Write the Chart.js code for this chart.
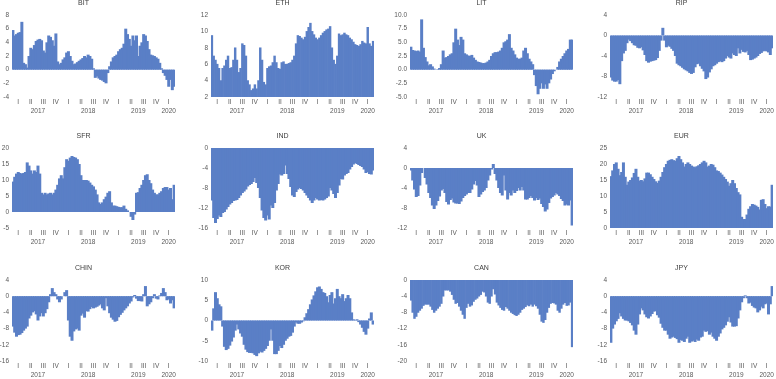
<!DOCTYPE html>
<html>
<head>
<meta charset="utf-8">
<script src="https://cdn.jsdelivr.net/npm/chart.js@4.4.1/dist/chart.umd.min.js"></script>
<style>
  html, body { margin: 0; padding: 0; background: #fff; overflow: hidden; }
  body { width: 776px; height: 379px; position: relative; }
  .panel { position: absolute; }
</style>
</head>
<body>
<script>
// axis labels
const quarterLabels = ['I', 'II', 'III', 'IV', 'I', 'II', 'III', 'IV', 'I', 'II', 'III', 'IV', 'I']
const yearLabels = ['2017', '2018', '2019', '2020']
const yearQuarters = [4, 4, 4, 1]
const pointsPerQuarter = 7

// series, 7 readings per quarter, Q1 2017 .. Q1 2020
const bit = [
  5.8, 5.0, 5.2, 5.4, 5.5, 7.0, 1.0,
  0.8, 0.3, 2.0, 3.2, 3.0, 3.6, 4.2,
  4.4, 4.5, 4.3, 2.8, 2.5, 4.0, 5.0,
  4.8, 4.3, 3.5, 5.3, 1.2, 0.8, 1.0,
  1.5, 1.8, 2.5, 2.7, 2.0, 1.3, 0.8,
  0.9, 1.1, 1.3, 1.5, 1.7, 2.0, 1.8,
  2.2, 2.0, 1.6, 0.2, -1.2, -1.0, -1.3,
  -1.5, -1.6, -1.8, -2.0, -0.5, 0.5, 1.2,
  1.8, 2.0, 2.2, 2.7, 3.0, 3.2, 3.8,
  6.0, 5.2, 4.5, 3.5, 5.0, 4.3, 5.0,
  2.0, 3.5, 4.0, 5.2, 5.0, 4.2, 3.0,
  2.2, 2.1, 2.0, 1.8, 1.6, 1.0, 0.2,
  -0.5, -0.9, -1.5, -2.5, -1.5, -3.0, -2.5
]
const eth = [
  9.5, 7.0, 6.5, 6.0, 5.5, 4.0, 5.5,
  5.8, 6.5, 7.0, 5.5, 5.6, 6.5, 8.0,
  6.5, 5.0, 5.5, 8.5, 8.3, 7.0, 4.0,
  3.5, 2.8, 3.0, 3.5, 3.0, 4.0, 8.0,
  6.5, 3.8, 3.5, 5.5, 5.7, 5.8, 6.2,
  7.0, 6.2, 5.5, 5.4, 6.2, 6.3, 6.0,
  6.0, 6.1, 6.2, 6.5, 7.0, 8.5, 9.5,
  9.4, 9.2, 9.0, 9.3, 10.0, 10.5, 11.0,
  10.0, 9.6, 9.2, 9.0, 9.2, 9.5, 9.8,
  10.0, 10.2, 10.3, 10.6, 8.0, 6.5, 6.0,
  7.0, 9.7, 9.5, 9.6, 9.8, 9.6, 9.5,
  9.2, 9.0, 8.7, 8.4, 8.3, 8.2, 8.4,
  8.8, 8.6, 8.5, 10.5, 8.5, 8.2, 8.8
]
const lit = [
  4.2, 3.6, 3.5, 3.4, 3.5, 3.3, 9.2,
  4.0, 2.3, 1.5, 0.8, 1.0, 0.6, 0.2,
  0.0, 0.1, 0.3, 1.0, 3.5, 2.2, 2.3,
  2.5, 2.8, 3.0, 5.0, 7.5, 5.5, 4.5,
  6.0, 5.5, 3.0, 2.8, 2.6, 2.5, 2.7,
  2.2, 1.8, 1.5, 1.4, 1.3, 1.2, 1.2,
  1.3, 1.5, 1.8, 2.5, 3.0, 3.2, 3.2,
  3.3, 3.5, 4.0, 5.0, 5.2, 5.5, 6.5,
  4.0, 3.5, 2.8, 2.2, 2.0, 2.0, 2.2,
  3.5, 4.0, 3.0, 2.0, 1.5, 1.0, -1.0,
  -3.0, -4.5, -3.5, -2.5, -3.5, -2.7, -3.5,
  -2.5, -1.8, -0.8, -0.3, 0.0, 0.5, 1.5,
  2.0, 2.5, 3.0, 3.5, 3.8, 5.5, 5.5
]
const rip = [
  -8.2, -8.8, -9.0, -9.0, -8.7, -9.5, -5.0,
  -3.5, -3.0, -1.5, -0.8, -1.1, -1.5, -1.9,
  -2.0, -2.4, -2.5, -2.3, -2.9, -3.8, -5.0,
  -5.3, -5.1, -5.0, -4.9, -4.8, -4.4, -3.0,
  -1.0, 1.5, -1.0, -2.3, -2.0, -2.2, -2.6,
  -3.0, -4.0, -5.5, -5.8, -6.0, -6.3, -6.6,
  -6.8, -7.0, -7.3, -7.5, -7.3, -6.2, -5.6,
  -5.5, -6.0, -6.5, -7.0, -8.5, -8.2, -7.2,
  -6.6, -6.0, -5.8, -5.5, -5.2, -5.0, -5.2,
  -5.0, -4.5, -4.0, -4.3, -4.5, -3.5, -3.8,
  -4.0, -2.5, -3.5, -2.8, -3.2, -3.3, -3.0,
  -3.8, -4.8, -4.7, -4.5, -4.3, -4.0, -3.6,
  -3.4, -3.1, -3.0, -3.1, -3.3, -3.8, -2.5
]
const sfr = [
  9.5, 11.0, 12.0, 12.5, 12.2, 12.0, 12.2,
  12.5, 15.5, 14.5, 13.0, 12.0, 13.0, 12.5,
  14.5, 12.0, 6.0, 5.5, 6.0, 5.5, 5.8,
  6.0, 5.5, 6.0, 7.0, 8.5, 10.5, 11.5,
  10.5, 14.0, 16.5, 16.0, 17.0, 17.5, 17.2,
  17.0, 16.5, 15.0, 11.5, 10.0, 10.0, 10.0,
  9.8, 9.2, 8.5, 8.0, 7.0, 5.5, 3.0,
  2.5, 3.0, 4.0, 4.8, 6.0, 6.5, 3.0,
  2.0, 2.0, 1.8, 1.6, 1.5, 1.5, 2.0,
  1.0, 0.5, 0.0, -1.5, -2.5, -0.8, 6.0,
  6.2, 7.5, 8.5, 10.0, 11.5, 11.8, 10.0,
  9.0, 7.0, 6.0, 5.5, 5.5, 6.0, 6.5,
  7.5, 7.8, 7.8, 7.0, 7.5, 4.0, 8.5
]
const ind = [
  -10.5, -14.0, -15.0, -14.2, -13.5, -13.8, -13.0,
  -12.8, -12.3, -11.8, -11.3, -11.0, -10.6, -10.5,
  -10.4, -10.0, -9.5, -9.0, -8.7, -8.3, -7.7,
  -7.4, -7.2, -6.8, -6.0, -7.0, -8.0, -10.0,
  -12.5, -14.0, -14.5, -13.5, -14.3, -11.5, -12.0,
  -11.0, -8.5, -7.2, -5.3, -5.5, -5.2, -3.5,
  -5.2, -6.2, -7.8, -9.5, -9.8, -8.8, -8.3,
  -8.0, -8.2, -8.5, -9.0, -9.5, -10.0, -10.5,
  -11.0, -10.5, -10.0, -10.3, -10.5, -10.4, -10.5,
  -10.3, -10.0, -9.7, -8.0, -8.5, -9.2, -10.0,
  -9.0, -7.5, -6.2, -6.3, -5.5, -5.2, -5.0,
  -4.3, -3.8, -3.3, -3.0, -3.2, -3.4, -3.6,
  -3.8, -4.3, -5.0, -4.8, -5.2, -5.3, -4.5
]
const uk = [
  -0.5, -2.5, -4.3, -5.8, -5.6, -3.5, -1.0,
  0.0, -2.0, -3.3, -5.0, -6.0, -7.5, -8.2,
  -7.5, -6.6, -5.7, -4.5, -4.2, -5.0, -6.8,
  -7.3, -6.4, -6.1, -6.9, -7.1, -7.1, -7.2,
  -6.7, -6.0, -5.6, -5.3, -5.0, -5.0, -4.3,
  -3.3, -2.6, -3.5, -5.8, -5.3, -4.8, -4.5,
  -4.0, -2.5, -1.5, -0.3, 0.8, -1.2, -2.5,
  -4.0, -5.0, -5.5, -1.5, -4.5, -6.3, -5.0,
  -5.5, -4.5, -5.0, -4.6, -4.0, -4.5, -3.8,
  -4.5, -6.3, -6.3, -6.0, -5.6, -6.0, -6.5,
  -6.0, -6.4, -6.1, -7.2, -7.8, -8.7, -8.3,
  -7.0, -6.1, -5.8, -5.5, -5.0, -5.3, -5.6,
  -6.2, -6.6, -7.5, -7.3, -7.5, -6.5, -11.5
]
const eur = [
  16.2, 18.0, 20.0, 20.5, 18.5, 16.5, 17.5,
  20.5, 16.0, 13.5, 14.5, 15.0, 15.8, 17.2,
  18.5, 16.0, 14.8, 15.0, 14.6, 15.5, 17.3,
  17.3, 16.8, 16.0, 15.3, 14.6, 14.1, 14.8,
  16.0, 17.5, 19.0, 20.0, 21.0, 21.3, 21.5,
  21.2, 21.0, 21.8, 22.5, 21.5, 20.5, 19.2,
  20.0, 20.5, 20.0, 19.5, 19.2, 19.0, 19.3,
  19.6, 20.0, 20.5, 21.0, 20.5, 19.2, 19.5,
  20.0, 19.8, 19.0, 18.0, 17.8, 17.3, 16.7,
  16.0, 15.3, 14.5, 13.2, 14.0, 15.0, 14.0,
  12.5, 11.2, 10.5, 3.5, 2.8, 2.8, 4.2,
  6.0, 6.8, 7.5, 7.3, 7.0, 6.6, 5.8,
  8.8, 9.0, 7.5, 6.2, 6.8, 6.7, 13.5
]
const chin = [
  -7.5, -9.0, -10.0, -9.6, -9.5, -9.1, -8.5,
  -8.0, -7.5, -5.5, -4.8, -4.0, -3.7, -4.5,
  -6.0, -5.0, -4.2, -5.0, -4.2, -3.2, -1.5,
  0.5, 2.0, 1.0, 0.5, -0.8, -1.5, -0.8,
  0.0, 1.0, 1.5, -6.0, -10.0, -11.0, -8.7,
  -8.2, -8.0, -8.5, -4.8, -4.3, -5.3, -3.7,
  -3.8, -3.2, -2.7, -3.0, -2.8, -2.6, -2.3,
  -2.0, -3.0, -3.5, -0.5, -2.5, -4.2, -5.3,
  -5.8, -6.3, -6.1, -5.2, -4.6, -4.1, -3.5,
  -3.0, -2.5, -1.8, -1.3, -0.3, 0.3, -0.6,
  -1.2, -1.2, -1.3, 0.5, 2.5, -2.5, -2.0,
  -1.5, -0.5, 0.5, -0.6, -0.8, 0.2, 0.8,
  2.0, 1.0, -1.0, -0.8, -1.8, -1.0, -3.0
]
const kor = [
  -2.5, 3.0, 7.0, 5.5, 4.0, 3.5, -1.5,
  -6.5, -7.3, -7.0, -6.2, -5.2, -4.2, -2.5,
  -1.0, -2.2, -3.2, -4.0, -6.0, -7.2, -7.8,
  -8.0, -8.0, -8.1, -8.5, -8.8, -8.1, -7.7,
  -7.9, -7.5, -7.0, -6.3, -5.0, -2.2, -5.0,
  -8.3, -8.3, -7.5, -6.3, -6.8, -6.0, -5.0,
  -4.5, -4.0, -3.8, -3.0, -1.5, -0.5, -0.8,
  -0.8, -0.5, -0.2, 0.8, 1.8, 2.8, 4.0,
  5.2, 6.2, 7.2, 8.2, 8.4, 7.8, 7.0,
  6.8, 6.0, 4.5, 6.3, 7.0, 4.2, 5.5,
  7.8, 6.0, 5.5, 6.5, 4.8, 5.5, 6.3,
  5.5, 2.0, 0.3, 0.1, 0.3, -0.4, -1.0,
  -1.8, -2.8, -3.5, -2.0, 0.5, 2.0, -1.0
]
const can = [
  -5.0, -8.0, -9.5, -9.0, -8.0, -7.5, -7.0,
  -6.3, -6.0, -6.0, -6.0, -6.5, -7.3, -8.0,
  -7.5, -7.0, -6.5, -5.8, -4.0, -2.5, -2.5,
  -2.5, -2.8, -3.6, -4.8, -5.8, -5.6, -6.5,
  -7.5, -8.5, -9.5, -6.8, -5.8, -6.5, -6.2,
  -5.3, -4.8, -4.5, -4.0, -3.6, -2.8, -3.0,
  -4.0, -5.5, -5.8, -4.0, -2.2, -3.5, -5.5,
  -6.2, -6.8, -7.3, -7.5, -6.6, -7.0, -7.5,
  -8.0, -8.3, -8.6, -8.8, -8.5, -8.0, -7.3,
  -7.0, -6.6, -6.2, -6.4, -6.0, -6.5, -6.0,
  -6.4, -7.0, -8.5, -10.2, -10.5, -9.8, -8.0,
  -6.8, -5.8, -5.6, -5.7, -6.0, -7.5, -8.0,
  -7.0, -6.0, -5.6, -6.3, -6.2, -5.5, -16.5
]
const jpy = [
  -11.5, -8.0, -7.0, -6.2, -5.6, -4.2, -5.0,
  -5.6, -6.0, -6.0, -6.2, -6.6, -7.2, -8.5,
  -9.5, -7.0, -4.5, -3.0, -3.5, -4.5, -5.2,
  -5.5, -5.0, -4.4, -3.8, -3.7, -4.7, -5.3,
  -6.8, -7.8, -8.5, -8.5, -9.5, -10.5, -10.2,
  -10.0, -10.3, -10.6, -11.5, -10.8, -11.0, -11.3,
  -10.5, -10.0, -11.5, -11.2, -11.0, -11.3, -10.7,
  -11.0, -10.2, -10.0, -8.5, -8.8, -8.6, -9.5,
  -9.0, -10.0, -10.5, -11.0, -10.0, -9.2, -8.2,
  -7.8, -7.2, -6.3, -5.2, -6.5, -7.5, -7.5,
  -7.4, -5.5, -3.5, -1.5, -0.5, 0.2, -0.5,
  -1.8, -1.6, -2.4, -2.8, -3.0, -4.0, -3.5,
  -2.6, -3.0, -2.0, -1.8, -4.5, -2.0, 2.5
]

const gBarColor = '#5a7fc6'
const gTextColor = '#595959'
Chart.defaults.font.family = "'Liberation Sans', Arial, sans-serif"

// one category per reading, plus the quarter / year tick text
const gCategories = []
const gTickLabels = []
quarterLabels.forEach((q, qi) => {
  for (let k = 0; k < pointsPerQuarter; k++) {
    gCategories.push(q + ' ' + (qi + 1))
    gTickLabels.push(k === 3 ? [q] : '')
  }
})
let gStartQuarter = 0
yearLabels.forEach((y, i) => {
  const idx = Math.round(gStartQuarter * pointsPerQuarter + yearQuarters[i] * pointsPerQuarter / 2 - 0.5)
  const top = Array.isArray(gTickLabels[idx]) ? gTickLabels[idx][0] : ''
  gTickLabels[idx] = [top, y]
  gStartQuarter += yearQuarters[i]
})

// striped: column panels where the white gaps between bars show
const gPanels = [
  { title: 'BIT', data: bit, min: -4, max: 8, step: 2, x0: 12, x1: 175, y0: 15, y1: 97 },
  { title: 'ETH', data: eth, min: 2, max: 12, step: 2, striped: true, x0: 211, x1: 374, y0: 15, y1: 97 },
  { title: 'LIT', data: lit, min: -5, max: 10, step: 2.5, dec: 1, x0: 410, x1: 573, y0: 15, y1: 97 },
  { title: 'RIP', data: rip, min: -12, max: 4, step: 4, x0: 610, x1: 773, y0: 15, y1: 97 },
  { title: 'SFR', data: sfr, min: -5, max: 20, step: 5, x0: 12, x1: 175, y0: 148, y1: 228 },
  { title: 'IND', data: ind, min: -16, max: 0, step: 4, x0: 211, x1: 374, y0: 148, y1: 228 },
  { title: 'UK', data: uk, min: -12, max: 4, step: 4, x0: 410, x1: 573, y0: 148, y1: 228 },
  { title: 'EUR', data: eur, min: 0, max: 25, step: 5, x0: 610, x1: 773, y0: 148, y1: 228 },
  { title: 'CHIN', data: chin, min: -16, max: 4, step: 4, x0: 12, x1: 175, y0: 280, y1: 361 },
  { title: 'KOR', data: kor, min: -10, max: 10, step: 5, x0: 211, x1: 374, y0: 280, y1: 361 },
  { title: 'CAN', data: can, min: -20, max: 0, step: 4, striped: true, x0: 410, x1: 573, y0: 280, y1: 361 },
  { title: 'JPY', data: jpy, min: -16, max: 4, step: 4, x0: 610, x1: 773, y0: 280, y1: 361 }
]

const gAxisW = 20
const gTitleH = 16
const gBottomH = 20

function drawPanel(p) {
  const div = document.createElement('div')
  div.className = 'panel'
  div.style.left = (p.x0 - gAxisW) + 'px'
  div.style.top = (p.y0 - gTitleH) + 'px'
  const canvas = document.createElement('canvas')
  canvas.width = p.x1 - p.x0 + gAxisW * 2
  canvas.height = p.y1 - p.y0 + gTitleH + gBottomH
  div.appendChild(canvas)
  document.body.appendChild(div)

  const dataset = {
    data: p.data,
    backgroundColor: gBarColor,
    borderWidth: 0,
    barPercentage: 1,
    categoryPercentage: 1
  }
  if (!p.striped) {
    // fixed 3px columns overlap their neighbours, so no seams show
    dataset.barThickness = 3
    dataset.inflateAmount = 0
  }

  new Chart(canvas.getContext('2d'), {
    type: 'bar',
    data: { labels: gCategories, datasets: [dataset] },
    options: {
      responsive: false,
      animation: false,
      layout: { padding: { left: 0, right: gAxisW, top: 0, bottom: 0 } },
      plugins: {
        legend: { display: false },
        tooltip: { enabled: false },
        title: {
          display: true,
          text: p.title,
          color: '#404040',
          font: { size: 7, weight: 'normal', lineHeight: 1.2 },
          padding: { top: 0.3, bottom: 7.3 }
        }
      },
      scales: {
        x: {
          grid: { display: false, drawTicks: false },
          border: { display: false },
          ticks: {
            autoSkip: false,
            maxRotation: 0,
            minRotation: 0,
            padding: 1,
            color: gTextColor,
            font: { size: 6.5, lineHeight: 1.38 },
            callback: (v, i) => gTickLabels[i]
          },
          afterFit: (s) => { s.height = gBottomH }
        },
        y: {
          min: p.min,
          max: p.max,
          grid: { display: false, drawTicks: false },
          border: { display: false },
          ticks: {
            stepSize: p.step,
            padding: 3,
            color: gTextColor,
            font: { size: 6.5 },
            callback: (v) => p.dec ? v.toFixed(p.dec) : v
          },
          afterFit: (s) => { s.width = gAxisW }
        }
      }
    }
  })
}

gPanels.forEach(drawPanel)
</script>
</body>
</html>
